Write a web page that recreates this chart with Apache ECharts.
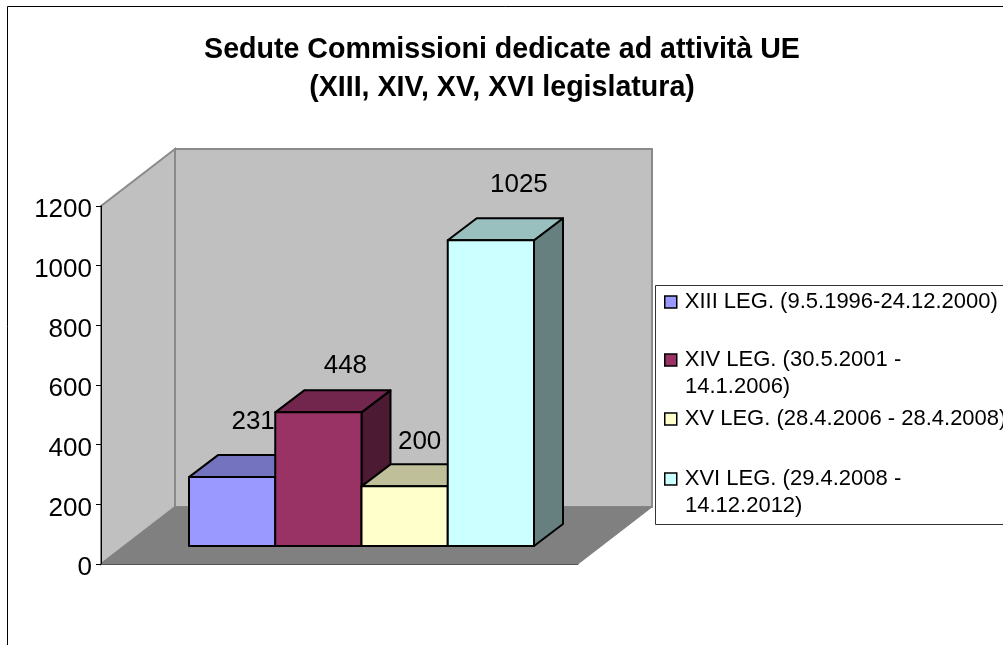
<!DOCTYPE html>
<html>
<head>
<meta charset="utf-8">
<title>Sedute Commissioni</title>
<script src="https://cdn.jsdelivr.net/npm/echarts@6/dist/echarts.min.js"></script>
<style>
  html, body { margin: 0; padding: 0; background: #fff; overflow: hidden; }
  #chart { width: 1003px; height: 645px; }
</style>
</head>
<body>
<div id="chart"></div>
<script>
const legislature = [
  'XIII LEG. (9.5.1996-24.12.2000)',
  'XIV LEG. (30.5.2001 -',
  'XV LEG. (28.4.2006 - 28.4.2008)',
  'XVI LEG. (29.4.2008 -'
]
const legendSecondLine = ['', '14.1.2006)', '', '14.12.2012)']
const sedute = [231, 448, 200, 1025]
const yTicks = { min: 0, max: 1200, step: 200 }

const frontColors = ['#9999ff', '#993366', '#ffffcc', '#ccffff']
const topColors = ['#7373bf', '#73264d', '#bfbf99', '#99bfbf']
const sideColors = ['#4d4d80', '#4d1a33', '#808066', '#668080']

const FONT = '"Liberation Sans", Arial, sans-serif'
// the 3d look: how far the walls and the bars are pushed back
const WALL_DX = 74
const WALL_DY = -57
const BAR_DX = 29
const BAR_DY = -22
const BAR_WIDTH = 86.25
const BAR_SHIFT_X = 22
const BAR_SHIFT_Y = -18
// excel did not put the labels at a regular distance from the bars
const labelShift = [[21, -55], [27, -47], [15, -45], [28, -55]]
const legendCenters = [301, 359, 418, 478]

const renderWalls = (params, api) => {
  const origin = api.coord([0, yTicks.min])
  const top = api.coord([0, yTicks.max])
  const width = api.size([1, 0])[0]
  const left = origin[0] - width / 2
  const right = left + width
  const bottom = origin[1]
  const wall = { fill: '#c0c0c0', stroke: '#8a8a8a', lineWidth: 2 }
  return {
    type: 'group',
    children: [
      {
        type: 'polygon',
        shape: { points: [[left + WALL_DX, top[1] + WALL_DY], [right + WALL_DX, top[1] + WALL_DY], [right + WALL_DX, bottom + WALL_DY], [left + WALL_DX, bottom + WALL_DY]] },
        style: wall
      },
      {
        type: 'polygon',
        shape: { points: [[left, top[1]], [left + WALL_DX, top[1] + WALL_DY], [left + WALL_DX, bottom + WALL_DY], [left, bottom]] },
        style: wall
      },
      {
        type: 'polygon',
        shape: { points: [[left, bottom], [right, bottom], [right + WALL_DX, bottom + WALL_DY], [left + WALL_DX, bottom + WALL_DY]] },
        style: { fill: '#808080', stroke: '#808080', lineWidth: 1 }
      }
    ]
  }
}

const renderBar = (index) => (params, api) => {
  const base = api.coord([0, 0])
  const height = api.size([0, api.value(1)])[1]
  const x0 = base[0] + BAR_SHIFT_X + (index - sedute.length / 2) * BAR_WIDTH
  const x1 = x0 + BAR_WIDTH
  const y1 = base[1] + BAR_SHIFT_Y
  const y0 = y1 - height
  const edge = { stroke: '#000', lineWidth: 2, lineJoin: 'round' }
  return {
    type: 'group',
    children: [
      {
        type: 'polygon',
        shape: { points: [[x1, y0], [x1 + BAR_DX, y0 + BAR_DY], [x1 + BAR_DX, y1 + BAR_DY], [x1, y1]] },
        style: { ...edge, fill: sideColors[index] }
      },
      {
        type: 'polygon',
        shape: { points: [[x0, y0], [x0 + BAR_DX, y0 + BAR_DY], [x1 + BAR_DX, y0 + BAR_DY], [x1, y0]] },
        style: { ...edge, fill: topColors[index] }
      },
      {
        type: 'rect',
        shape: { x: x0, y: y0, width: BAR_WIDTH, height },
        style: { ...edge, fill: frontColors[index] }
      },
      {
        type: 'text',
        x: (x0 + x1) / 2 + labelShift[index][0],
        y: y0 + labelShift[index][1],
        style: {
          text: String(api.value(1)),
          align: 'center',
          verticalAlign: 'middle',
          fill: '#000',
          font: '26px ' + FONT
        }
      }
    ]
  }
}

const chart = echarts.init(document.getElementById('chart'))

const option = {
  animation: false,
  backgroundColor: '#fff',
  title: {
    text: 'Sedute Commissioni dedicate ad attività UE\n(XIII, XIV, XV, XVI legislatura)',
    left: 497,
    top: 26,
    textAlign: 'center',
    textStyle: {
      fontFamily: FONT,
      fontSize: 28.6,
      fontWeight: 'bold',
      lineHeight: 38,
      color: '#000'
    }
  },
  grid: { left: 101, top: 206, width: 477, height: 358 },
  xAxis: {
    type: 'category',
    data: [''],
    z: 5,
    axisLine: { lineStyle: { color: '#555', width: 1 } },
    axisTick: { show: false },
    axisLabel: { show: false }
  },
  yAxis: {
    type: 'value',
    min: yTicks.min,
    max: yTicks.max,
    interval: yTicks.step,
    z: 5,
    splitLine: { show: false },
    axisLine: { show: true, lineStyle: { color: '#000', width: 1 } },
    axisTick: { show: true, length: 5, lineStyle: { color: '#000' } },
    axisLabel: {
      margin: 9,
      fontFamily: FONT,
      fontSize: 26,
      color: '#000',
      // small line box anchored at the tick, moves the digits a little under it
      verticalAlign: 'top',
      lineHeight: 8,
      formatter: (value) => String(value)
    }
  },
  legend: legislature.map((name, i) => ({
    data: [name],
    left: 664,
    top: legendCenters[i] - 10,
    padding: 0,
    icon: 'rect',
    itemWidth: 12,
    itemHeight: 12,
    selectedMode: false,
    itemStyle: { borderColor: '#000', borderWidth: 1.5 },
    textStyle: { fontFamily: FONT, fontSize: 22, color: '#000', padding: [2, 0, 0, 3] }
  })),
  graphic: [
    // outer frame of the pasted picture, it runs off the page on the right and bottom
    { type: 'rect', silent: true, z: 0, shape: { x: 7.5, y: 6.5, width: 1100, height: 800 }, style: { fill: 'none', stroke: '#000', lineWidth: 1 } },
    { type: 'rect', silent: true, z: 1, shape: { x: 655.5, y: 285.5, width: 400, height: 239 }, style: { fill: '#fff', stroke: '#333', lineWidth: 1 } },
    ...legendSecondLine.map((line, i) => ({
      type: 'text',
      silent: true,
      z: 10,
      x: 685,
      y: legendCenters[i] + 28,
      style: { text: line, fill: '#000', font: '22px ' + FONT, verticalAlign: 'middle' }
    }))
  ],
  series: [
    {
      name: 'pareti',
      type: 'custom',
      z: 1,
      silent: true,
      renderItem: renderWalls,
      data: [[0, 0]]
    },
    ...legislature.map((name, i) => ({
      name,
      type: 'custom',
      z: 2 + i,
      silent: true,
      renderItem: renderBar(i),
      itemStyle: { color: frontColors[i] },
      data: [[0, sedute[i]]]
    }))
  ]
}

chart.setOption(option)

window.addEventListener('resize', () => {
  chart.resize()
})
</script>
</body>
</html>
